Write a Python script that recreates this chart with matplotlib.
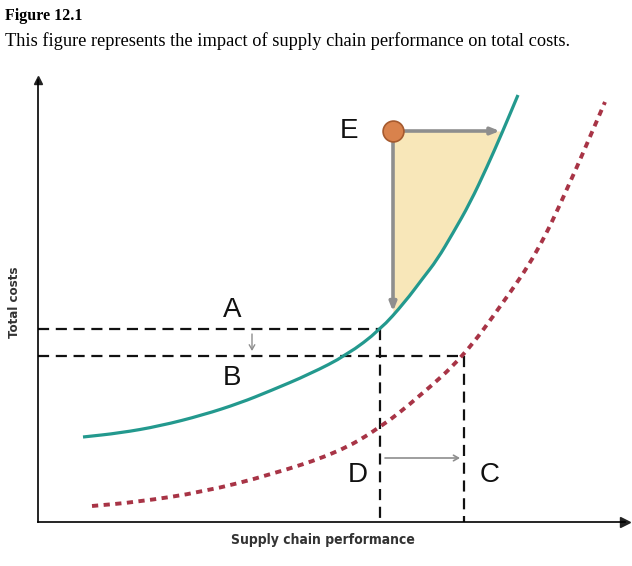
import numpy as np
import matplotlib
matplotlib.use("Agg")
import matplotlib.pyplot as plt
from matplotlib.path import Path
from matplotlib.patches import PathPatch

# values (units: distance from the axis origin)
teal_x = [45, 82, 122, 165, 202, 232, 272, 309, 342, 367, 385, 399, 415, 432, 449, 464, 480]
teal_y = [85, 89, 96, 107, 119, 131, 148, 167, 192, 220, 244, 262, 289, 319, 355, 389, 427]
red_x = [54, 99, 165, 232, 299, 342, 382, 425, 465, 499, 529, 567]
red_y = [16, 20, 30, 47, 69, 94, 126, 165, 219, 269, 332, 420]

cost_a = 193
cost_b = 166
perf_d = 342
perf_c = 426
point_e = (355, 391)

labels = {"A": (194, 212), "B": (194, 144), "E": (311, 391), "D": (320, 47), "C": (452, 47)}

teal = "#23998e"
red = "#a83446"
grey = "#8e8e8e"


def smooth(xs, ys):
    # quadratic bezier through the midpoints of the read points
    pts = np.column_stack([xs, ys]).astype(float)
    mids = (pts[:-1] + pts[1:]) / 2
    verts = [pts[0], mids[0]]
    codes = [Path.MOVETO, Path.LINETO]
    for i in range(1, len(pts) - 1):
        verts += [pts[i], mids[i]]
        codes += [Path.CURVE3, Path.CURVE3]
    verts.append(pts[-1])
    codes.append(Path.LINETO)
    return Path(verts, codes)


fig = plt.figure(figsize=(6.32, 5.66), dpi=100)
ax = fig.add_axes([38 / 632, 44 / 566, 587 / 632, 442 / 566])
ax.set_xlim(0, 587)
ax.set_ylim(0, 442)
for s in ["top", "right"]:
    ax.spines[s].set_visible(False)
ax.spines["left"].set_linewidth(1.2)
ax.spines["bottom"].set_linewidth(1.2)
ax.set_xticks([])
ax.set_yticks([])
ax.plot(1, 0, ">", color="#222222", ms=7, transform=ax.transAxes, clip_on=False)
ax.plot(0, 1, "^", color="#222222", ms=6, transform=ax.transAxes, clip_on=False)

# shaded area between E and the curve
fx = np.linspace(point_e[0], np.interp(point_e[1], teal_y, teal_x), 60)
ax.fill_between(fx, np.interp(fx, teal_x, teal_y), point_e[1], color="#f8e7b9", lw=0, zorder=1)

# dashed guides
dash = dict(color="#111111", lw=1.6, ls=(0, (5, 3)), zorder=2)
ax.plot([0, perf_d], [cost_a, cost_a], **dash)
ax.plot([perf_d, perf_d], [cost_a, 0], **dash)
ax.plot([0, perf_c], [cost_b, cost_b], **dash)
ax.plot([perf_c, perf_c], [cost_b, 0], **dash)

# curves
ax.add_patch(PathPatch(smooth(teal_x, teal_y), fill=False, edgecolor=teal, lw=2.3,
                       capstyle="butt", zorder=3))
ax.add_patch(PathPatch(smooth(red_x, red_y), fill=False, edgecolor=red, lw=2.8,
                       ls=(0, (1.6, 1.4)), zorder=3))

# arrows from E
e_right = np.interp(point_e[1], teal_y, teal_x)
e_down = np.interp(point_e[0], teal_x, teal_y)
ax.annotate("", xy=(e_right - 3, point_e[1]), xytext=point_e,
            arrowprops=dict(arrowstyle="-|>,head_length=0.5,head_width=0.2", color=grey, lw=2.6,
                            shrinkA=0, shrinkB=0), zorder=4)
ax.annotate("", xy=(point_e[0], e_down + 4), xytext=point_e,
            arrowprops=dict(arrowstyle="-|>,head_length=0.5,head_width=0.2", color=grey, lw=2.6,
                            shrinkA=0, shrinkB=0), zorder=4)
ax.plot(*point_e, "o", ms=15, mfc="#d9824c", mec="#a65a2e", mew=1.2, zorder=5)

# small arrows
ax.annotate("", xy=(214, 171), xytext=(214, 188),
            arrowprops=dict(arrowstyle="->,head_length=0.35,head_width=0.2", color=grey, lw=1,
                            shrinkA=0, shrinkB=0))
ax.annotate("", xy=(422, 64), xytext=(347, 64),
            arrowprops=dict(arrowstyle="->,head_length=0.35,head_width=0.2", color=grey, lw=1.2,
                            shrinkA=0, shrinkB=0))

for name, (lx, ly) in labels.items():
    ax.text(lx, ly, name, fontsize=20, family="Liberation Sans", color="#111111",
            ha="center", va="center")

fig.text(323 / 632, 1 - 540 / 566, "Supply chain performance", fontsize=10, fontweight="bold",
         fontstretch="condensed", family="DejaVu Sans", color="#333333", ha="center", va="center")
fig.text(14 / 632, 1 - 302 / 566, "Total costs", fontsize=9.5, rotation=90, fontweight="bold",
         fontstretch="condensed", family="DejaVu Sans", color="#333333", ha="center", va="center")

fig.text(5 / 632, 1 - 16 / 566, "Figure 12.1", fontsize=11.5, fontweight="bold",
         family="Liberation Serif", ha="left", va="center")
fig.text(5 / 632, 1 - 41 / 566, "This figure represents the impact of supply chain performance on total costs.",
         fontsize=13.2, family="Liberation Serif", ha="left", va="center")

fig.savefig("out.png", dpi=100)
